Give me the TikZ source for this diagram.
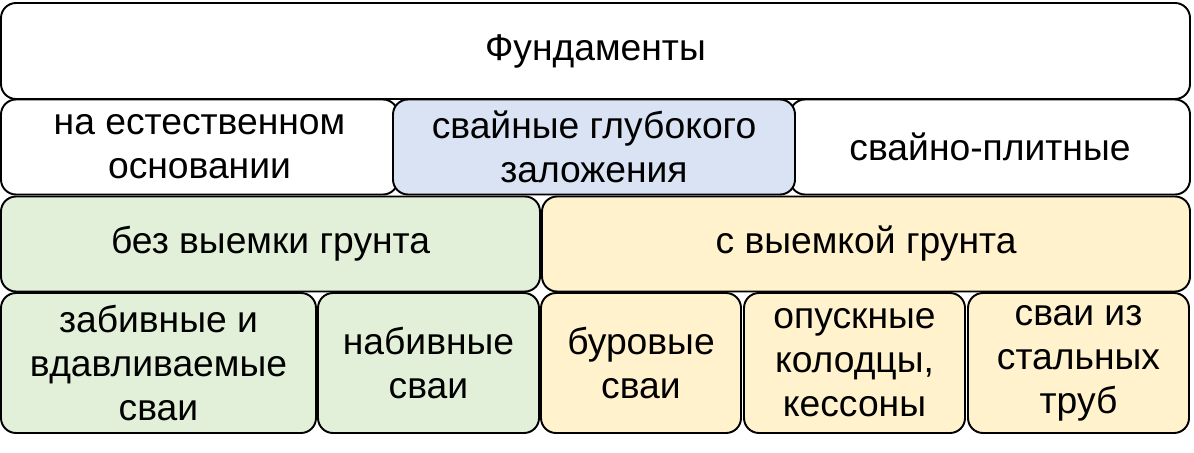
\documentclass[tikz,border=0pt]{standalone}
\usepackage{fontspec}
\setmainfont{Liberation Sans}
\usetikzlibrary{positioning}

\definecolor{pileblue}{HTML}{DAE3F3}
\definecolor{nodig}{HTML}{E2F0D9}
\definecolor{dig}{HTML}{FFF2CC}

\begin{document}
\begin{tikzpicture}[
		x=0.02cm, y=-0.02cm,
		blk/.style={rectangle, draw, fill=white, line width=1.1pt, rounded corners=0.3cm, align=center, inner sep=0pt},
		sz/.style 2 args={minimum width=#1*0.02cm, minimum height=#2*0.02cm},
		lbl/.style={font=\fontsize{21.2}{25}\selectfont},
	]
	\useasboundingbox (0,0) rectangle (1194,453);

	\node[blk, lbl, sz={1189}{96}] (fund) at (595.5,51) {Фундаменты};

	\node[blk, lbl, sz={397}{95}] (natural) at (199.5,147) {на естественном\\основании};
	\node[blk, lbl, sz={400}{95}] (pileslab) at (990,147) {свайно-плитные};
	\node[blk, lbl, sz={402}{95}, fill=pileblue] (deep) at (594,147) {свайные глубокого\\заложения};

	\node[blk, lbl, sz={539}{95}, fill=nodig] (nodigging) at (270.5,244) {без выемки грунта};
	\node[blk, lbl, sz={648}{95}, fill=dig] (digging) at (866,244) {с выемкой грунта};

	\node[blk, lbl, sz={315}{140}, fill=nodig] (driven) at (158.5,363) {забивные и\\вдавливаемые\\сваи};
	\node[blk, lbl, sz={221}{140}, fill=nodig] (castin) at (428.5,363) {набивные\\сваи};
	\node[blk, lbl, sz={200}{140}, fill=dig] (bored) at (641,363) {буровые\\сваи};
	\node[blk, lbl, sz={221}{140}, fill=dig] (caisson) at (854.5,363) {опускные\\колодцы,\\кессоны};
	\node[blk, lbl, sz={221}{140}, fill=dig] (steel) at (1078.5,363) {сваи из\\стальных\\труб};

\end{tikzpicture}
\end{document}
